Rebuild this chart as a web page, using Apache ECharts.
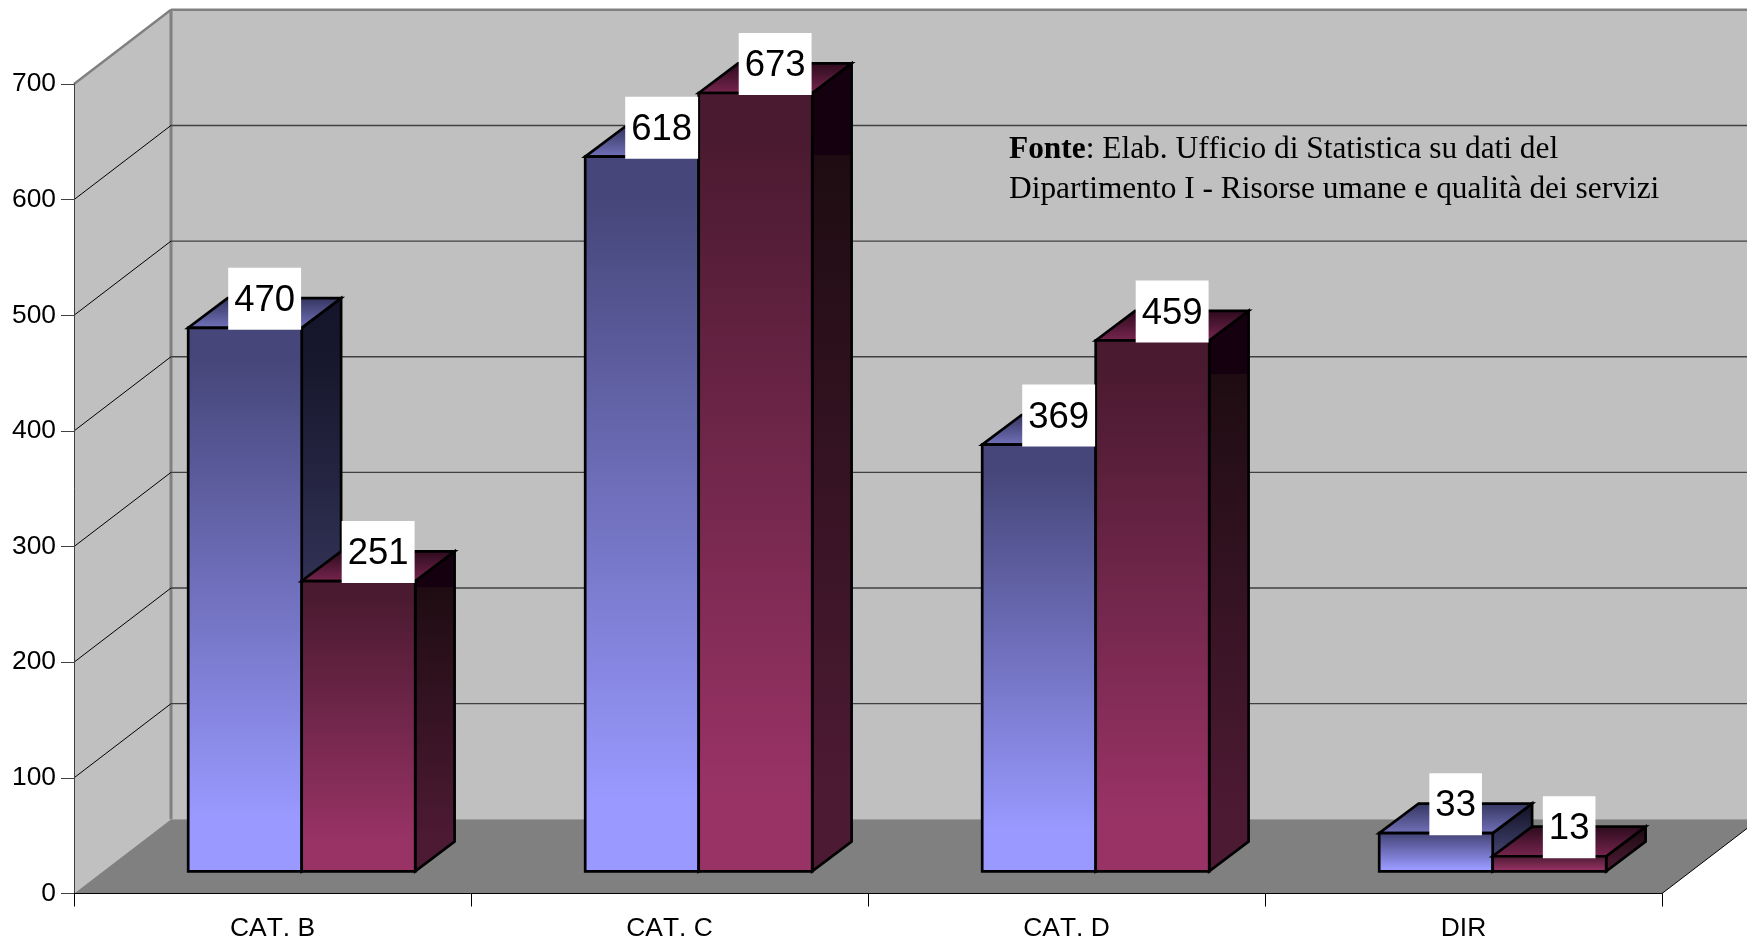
<!DOCTYPE html>
<html>
<head>
<meta charset="utf-8">
<style>html,body{margin:0;padding:0;background:#fff}#chart{width:1747px;height:941px}</style>
<script src="https://cdn.jsdelivr.net/npm/echarts@6/dist/echarts.min.js"></script>
</head>
<body>
<div id="chart"></div>
<script>
// Staff by category, drawn as pseudo-3D columns
const categories = ['CAT. B', 'CAT. C', 'CAT. D', 'DIR'];
const firstSeries = [470, 618, 369, 33];
const secondSeries = [251, 673, 459, 13];
const valueTicks = [0, 100, 200, 300, 400, 500, 600, 700];

// Oblique projection of the chart box and of the columns inside it
const WALL_DX = 97, WALL_DY = -74.2;
const BAR_DX = 39.4, BAR_DY = -29.6;
const FRONT_DX = 29.2, FRONT_DY = -22.2;
const BAR_SHARE = 113.5 / 397;

// Value box metrics
const LABEL_FONT_SIZE = 36.5;
const LABEL_DIGIT_WIDTH = LABEL_FONT_SIZE * 0.556;
const LABEL_PAD_X = 6, LABEL_BOX_HEIGHT = 62;

// Text is set without pair kerning throughout the chart
const nativeGetContext = HTMLCanvasElement.prototype.getContext;
HTMLCanvasElement.prototype.getContext = function (kind, opts) {
  const ctx = nativeGetContext.call(this, kind, opts);
  if (kind === '2d' && ctx && 'fontKerning' in ctx) ctx.fontKerning = 'none';
  return ctx;
};

const vertical = (stops) => ({
  type: 'linear', x: 0, y: 0, x2: 0, y2: 1,
  colorStops: stops.map(([offset, color]) => ({ offset, color }))
});

const paletteA = {
  front: vertical([[0, '#46467a'], [0.06, '#46467a'], [0.9, '#9999ff'], [1, '#9999ff']]),
  top: vertical([[0, '#33335c'], [1, '#7373bd']]),
  side: vertical([[0, '#14142a'], [0.115, '#17172d'], [0.9, '#4d4d80'], [1, '#4d4d80']])
};
const paletteB = {
  front: vertical([[0, '#4a1a30'], [0.06, '#4a1a30'], [0.9, '#993366'], [1, '#993366']]),
  top: vertical([[0, '#2a0a1c'], [1, '#7a2650']]),
  side: vertical([[0, '#150010'], [0.115, '#150010'], [0.115, '#1e0c12'], [0.9, '#4d1a33'], [1, '#4d1a33']])
};

const poly = (points, style) => ({ type: 'polygon', shape: { points }, style });
const seg = (x1, y1, x2, y2, stroke, lineWidth) => ({
  type: 'line', shape: { x1, y1, x2, y2 }, style: { stroke, lineWidth }
});

// Floor and the two walls
function renderRoom(params) {
  const c = params.coordSys;
  const l = c.x, r = c.x + c.width, t = c.y, b = c.y + c.height;
  const dx = WALL_DX, dy = WALL_DY;
  return {
    type: 'group',
    children: [
      poly([[l + dx, t + dy], [r + dx, t + dy], [r + dx, b + dy], [l + dx, b + dy]], { fill: '#c0c0c0' }),
      poly([[l, t], [l + dx, t + dy], [l + dx, b + dy], [l, b]], { fill: '#c0c0c0' }),
      poly([[l, b], [l + dx, b + dy], [r + dx, b + dy], [r, b]], { fill: '#808080' }),
      seg(l + dx, t + dy, l + dx, b + dy, '#808080', 3),
      seg(l, t, l + dx, t + dy, '#808080', 2.4),
      seg(l + dx, t + dy, r + dx, t + dy, '#808080', 2.4),
      seg(r, b, r + dx, b + dy, '#000', 1)
    ]
  };
}

// One gridline per tick: diagonal on the side wall, horizontal on the back wall
function renderGridline(params, api) {
  const v = api.value(0);
  if (v === 0 || v === 700) return null;
  const c = params.coordSys;
  const y = api.coord([0, v])[1];
  const l = c.x, r = c.x + c.width;
  return {
    type: 'group',
    children: [
      seg(l, y, l + WALL_DX, y + WALL_DY, '#000', 1),
      seg(l + WALL_DX, y + WALL_DY, r + WALL_DX, y + WALL_DY, '#404040', 1.4)
    ]
  };
}

function barBox(params, api, slot) {
  const value = api.value(1);
  const cat = api.value(0);
  const band = api.size([1, 0])[0];
  const w = band * BAR_SHARE;
  const center = api.coord([cat, 0])[0] + FRONT_DX;
  const yBase = api.coord([cat, 0])[1] + FRONT_DY;
  const yTop = api.coord([cat, value])[1] + FRONT_DY;
  const x0 = center + (slot === 0 ? -w : 0);
  return { x0, x1: x0 + w, yBase, yTop, value };
}

function barRenderer(slot, palette) {
  return function (params, api) {
    const { x0, x1, yBase, yTop } = barBox(params, api, slot);
    const dx = BAR_DX, dy = BAR_DY;
    const edge = { stroke: '#000', lineWidth: 2.7, lineJoin: 'miter' };
    return {
      type: 'group',
      children: [
        poly([[x1, yTop], [x1 + dx, yTop + dy], [x1 + dx, yBase + dy], [x1, yBase]],
          Object.assign({ fill: palette.side }, edge)),
        poly([[x0, yTop], [x0 + dx, yTop + dy], [x1 + dx, yTop + dy], [x1, yTop]],
          Object.assign({ fill: palette.top }, edge)),
        poly([[x0, yTop], [x1, yTop], [x1, yBase], [x0, yBase]],
          Object.assign({ fill: palette.front }, edge))
      ]
    };
  };
}

// White value boxes sit over the column tops
function labelRenderer(slot) {
  return function (params, api) {
    const { x0, x1, yTop, value } = barBox(params, api, slot);
    const text = String(value);
    const cx = (x0 + x1) / 2 + BAR_DX / 2;
    const cy = yTop - 29;
    const w = text.length * LABEL_DIGIT_WIDTH + LABEL_PAD_X * 2;
    return {
      type: 'group',
      children: [
        {
          type: 'rect',
          shape: { x: cx - w / 2, y: cy - LABEL_BOX_HEIGHT / 2, width: w, height: LABEL_BOX_HEIGHT },
          style: { fill: '#fff' }
        },
        {
          type: 'text',
          style: {
            text,
            x: cx,
            y: cy + 2,
            align: 'center',
            verticalAlign: 'middle',
            fontFamily: '"Liberation Sans", Arial, sans-serif',
            fontSize: LABEL_FONT_SIZE,
            fill: '#000'
          }
        }
      ]
    };
  };
}

const pairs = (vals) => vals.map((v, i) => [i, v]);
const axisFont = { fontFamily: '"Liberation Sans", Arial, sans-serif', fontSize: 26.4, color: '#000' };

const chart = echarts.init(document.getElementById('chart'), null, { renderer: 'canvas' });
chart.setOption({
  animation: false,
  backgroundColor: '#fff',
  title: {
    text: '{b|Fonte}: Elab. Ufficio di Statistica su dati del\nDipartimento I - Risorse umane e qualità dei servizi',
    left: 1009,
    top: 130,
    padding: 0,
    textStyle: {
      fontFamily: '"Liberation Serif", "Times New Roman", serif',
      fontSize: 31.4,
      fontWeight: 'normal',
      lineHeight: 40,
      color: '#000',
      rich: {
        b: {
          fontFamily: '"Liberation Serif", "Times New Roman", serif',
          fontSize: 31.4,
          fontWeight: 'bold',
          lineHeight: 40,
          color: '#000'
        }
      }
    }
  },
  grid: { left: 74, right: 85, top: 84, bottom: 47.5, containLabel: false, outerBoundsMode: 'none' },
  xAxis: {
    type: 'category',
    data: categories,
    z: 10,
    axisLine: { show: true, lineStyle: { color: '#000', width: 1 } },
    axisTick: { show: true, alignWithLabel: false, length: 13, lineStyle: { color: '#000', width: 1 } },
    axisLabel: Object.assign({ margin: 22, interval: 0 }, axisFont),
    splitLine: { show: false }
  },
  yAxis: {
    type: 'value',
    min: 0,
    max: 700,
    interval: 100,
    z: 10,
    axisLine: { show: true, lineStyle: { color: '#404040', width: 1 } },
    axisTick: { show: true, length: 13, lineStyle: { color: '#404040', width: 1 } },
    axisLabel: Object.assign({ margin: 18 }, axisFont),
    splitLine: { show: false }
  },
  series: [
    { type: 'custom', name: 'room', z: 1, silent: true, renderItem: renderRoom, data: [0], encode: { y: 0 } },
    { type: 'custom', name: 'grid', z: 2, silent: true, renderItem: renderGridline, data: valueTicks, encode: { y: 0 } },
    { type: 'custom', name: 'first', z: 3, silent: true, renderItem: barRenderer(0, paletteA), data: pairs(firstSeries), encode: { x: 0, y: 1 } },
    { type: 'custom', name: 'second', z: 4, silent: true, renderItem: barRenderer(1, paletteB), data: pairs(secondSeries), encode: { x: 0, y: 1 } },
    { type: 'custom', name: 'firstLabels', z: 5, silent: true, renderItem: labelRenderer(0), data: pairs(firstSeries), encode: { x: 0, y: 1 } },
    { type: 'custom', name: 'secondLabels', z: 5, silent: true, renderItem: labelRenderer(1), data: pairs(secondSeries), encode: { x: 0, y: 1 } }
  ]
});
</script>
</body>
</html>
